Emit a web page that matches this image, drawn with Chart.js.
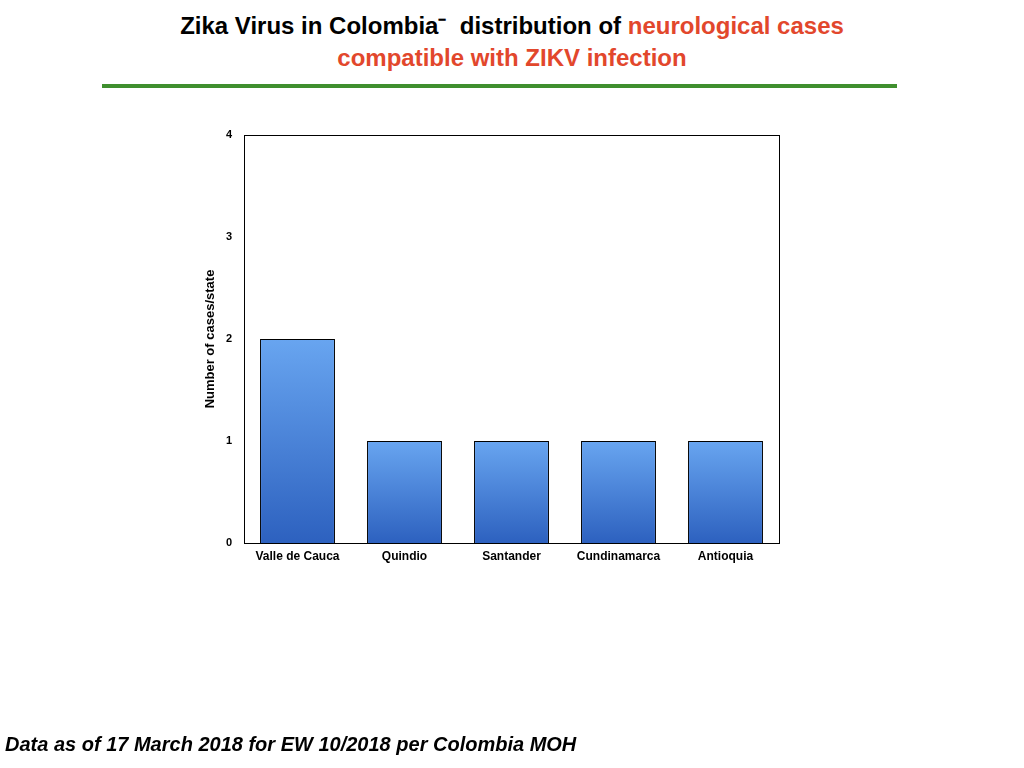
<!DOCTYPE html>
<html>
<head>
<meta charset="utf-8">
<script src="https://cdn.jsdelivr.net/npm/chart.js@4"></script>
<style>
  html, body { margin: 0; padding: 0; background: #fff; }
  body { width: 1024px; height: 768px; position: relative; overflow: hidden; font-family: "Liberation Sans", Arial, sans-serif; }
  .title { position: absolute; left: 0; width: 1024px; text-align: center; font-weight: bold; font-size: 24px; line-height: 32px; }
  .red { color: #e2472c; }
  #rule { position: absolute; left: 102px; top: 84px; width: 795px; height: 4px; background: #3f8f2e; }
  #foot { position: absolute; left: 5px; top: 733px; font-weight: bold; font-style: italic; font-size: 20px; }
  #wrap { position: absolute; left: 0; top: 0; width: 1024px; height: 768px; }
</style>
</head>
<body>
<div class="title" style="top:10px">Zika Virus in Colombia&#8315;&nbsp; distribution of <span class="red">neurological cases</span></div>
<div class="title red" style="top:42px">compatible with ZIKV infection</div>
<div id="rule"></div>
<div id="wrap"><canvas id="zikaChart" width="1024" height="768"></canvas></div>
<div id="foot">Data as of 17 March 2018 for EW 10/2018 per Colombia MOH</div>
<script>
// Datos del gráfico
const states = ['Valle de Cauca', 'Quindio', 'Santander', 'Cundinamarca', 'Antioquia'];
const cases = [2, 1, 1, 1, 1];
const yTicks = [0, 1, 2, 3, 4];

// Marco negro alrededor del área del gráfico
const frame = {
  id: 'frame',
  afterDatasetsDraw(chart) {
    const a = chart.chartArea, ctx = chart.ctx;
    ctx.save();
    ctx.strokeStyle = '#000';
    ctx.lineWidth = 1;
    ctx.strokeRect(Math.round(a.left) + 0.5, Math.round(a.top) + 0.5,
      Math.round(a.right - a.left), Math.round(a.bottom - a.top));
    ctx.restore();
  }
};

// Degradado por barra (claro arriba, oscuro abajo)
function barGradient(context) {
  const chart = context.chart;
  if (!chart.chartArea) return '#4a86dc';
  const y = chart.scales.y;
  const top = y.getPixelForValue(context.raw);
  const bottom = y.getPixelForValue(0);
  const g = chart.ctx.createLinearGradient(0, top, 0, bottom);
  g.addColorStop(0, '#68a5f0');
  g.addColorStop(1, '#2d61bf');
  return g;
}

const ctx = document.getElementById('zikaChart').getContext('2d');
new Chart(ctx, {
  type: 'bar',
  data: {
    labels: states,
    datasets: [{
      data: cases,
      backgroundColor: barGradient,
      borderColor: '#000',
      borderWidth: 1,
      barPercentage: 0.7,
      categoryPercentage: 1
    }]
  },
  options: {
    responsive: false,
    animation: false,
    layout: { padding: { left: 203, top: 135, right: 245, bottom: 150 } },
    plugins: { legend: { display: false }, tooltip: { enabled: false } },
    scales: {
      x: {
        grid: { display: false },
        border: { display: false },
        ticks: { color: '#000', font: { family: 'Liberation Sans', size: 12, weight: 'bold' }, padding: -2, maxRotation: 0 },
        afterFit(scale) { scale.height = 75; }
      },
      y: {
        min: 0, max: 4,
        afterBuildTicks(scale) { scale.ticks = yTicks.map(v => ({ value: v })); },
        grid: { display: false },
        border: { display: false },
        ticks: { color: '#000', font: { family: 'Liberation Sans', size: 11, weight: 'bold' }, padding: 4 },
        title: { display: true, text: 'Number of cases/state', color: '#000', font: { family: 'Liberation Sans', size: 13, weight: 'bold' }, padding: 0 },
        afterFit(scale) { scale.width = 41; }
      }
    }
  },
  plugins: [frame]
});
</script>
</body>
</html>
